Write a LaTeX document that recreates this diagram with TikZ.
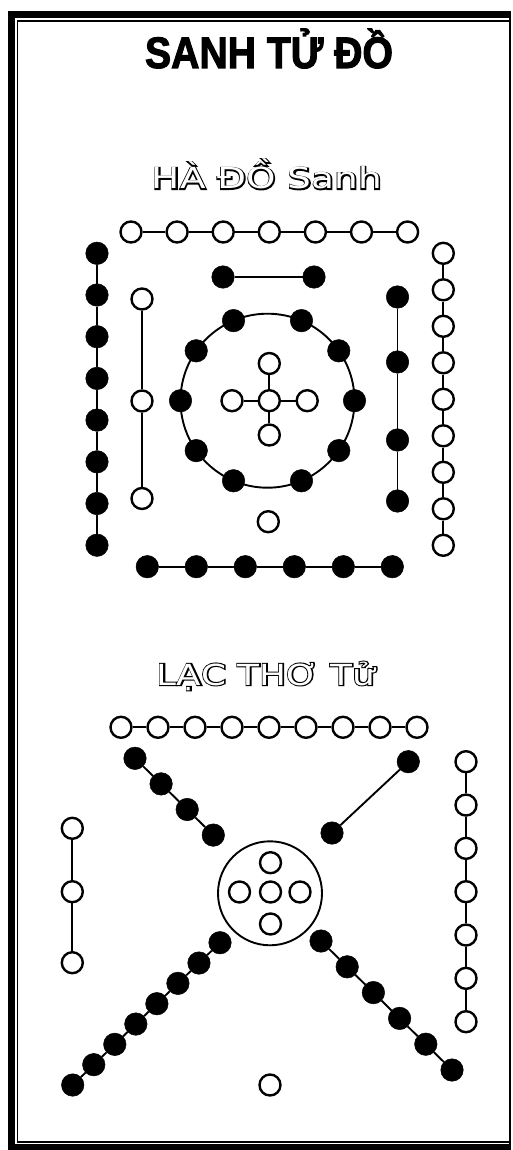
\documentclass[tikz,border=0pt]{standalone}
\usepackage{graphicx}
\usepackage{fontspec}
\newfontfamily\titlefont[FakeBold=2.5]{Liberation Sans Bold}
\newfontfamily\subfont{DejaVu Sans}
\newfontfamily\subfontfat[FakeBold=7]{DejaVu Sans}
\newcommand\hwidth[2]{\resizebox{#1}{\height}{#2}}
\newcommand\outl[1]{\fontsize{29}{29}\makebox[0pt][l]{\color{black}\subfontfat\fontsize{29}{29}\selectfont #1}{\color{white}\subfont\fontsize{29}{29}\selectfont #1}}
\begin{document}
\begin{tikzpicture}[x=1pt,y=-1pt,
  wn/.style={circle,draw=black,line width=2.4pt,fill=white,minimum size=21pt,inner sep=0pt},
  bn/.style={circle,fill=black,draw=black,line width=0.5pt,minimum size=22.5pt,inner sep=0pt},
  ln/.style={line width=1.9pt},
  frame/.style={line width=7pt},
  thin/.style={line width=1.4pt}]
\useasboundingbox (0,0) rectangle (513,1150);
\fill[white] (0,0) rectangle (513,1150);
% frame
\draw[frame] (510,15) -- (11.5,15) -- (11.5,1147) -- (510,1147);
\draw[thin] (510,21) -- (17.5,21) -- (17.5,1142) -- (510,1142);
\draw[line width=2pt] (510,11.5) -- (510,1150);
% titles
\node[anchor=base,inner sep=0pt] (title) at (269,68)
  {\hwidth{248pt}{\titlefont\fontsize{44}{44}\selectfont SANH TỬ ĐỒ}};
\node[anchor=base,inner sep=0pt] (sub1) at (267,189)
  {\hwidth{230pt}{\outl{HÀ ĐỒ Sanh}}};
\node[anchor=base,inner sep=0pt] (sub2) at (266,685)
  {\hwidth{218pt}{\outl{LẠC THƠ Tử}}};

% ===== HA DO =====
\coordinate (rc) at (267.5,400.7);
\draw[ln] (rc) circle[radius=87];
\foreach \a [count=\k] in {180,145,113,67,35,0,-35,-67,-113,-145}
  \node[bn] (r\k) at ([shift={(\a:87)}]rc) {};
% top row 7 white
\foreach \i in {0,...,6} \node[wn] (ht\i) at (131+46.1*\i,232) {};
\foreach \i [count=\j from 1] in {0,...,5} \draw[ln] (ht\i) -- (ht\j);
% left 8 black
\foreach \i in {0,...,7} \node[bn] (hl\i) at (97,253.3+41.7*\i) {};
\foreach \i [count=\j from 1] in {0,...,6} \draw[ln] (hl\i) -- (hl\j);
% left inner 3 white
\foreach \y [count=\k from 0] in {299,401,498.5} \node[wn] (hi\k) at (142,\y) {};
\draw[ln] (hi0) -- (hi1); \draw[ln] (hi1) -- (hi2);
% pair 2 black
\node[bn] (hp0) at (223,277) {};
\node[bn] (hp1) at (314,277) {};
\draw[ln] (hp0) -- (hp1);
% center cross 5 white
\node[wn] (hc) at (269.3,400.7) {};
\node[wn] (hcn) at (269.3,363.5) {};
\node[wn] (hcs) at (269.3,435) {};
\node[wn] (hcw) at (232,400.7) {};
\node[wn] (hce) at (307.2,400.7) {};
\foreach \n in {hcn,hcs,hcw,hce} \draw[ln] (hc) -- (\n);
% lone white
\node[wn] (h1) at (268.3,521.7) {};
% bottom 6 black
\foreach \i in {0,...,5} \node[bn] (hb\i) at (147.3+49*\i,566.7) {};
\foreach \i [count=\j from 1] in {0,...,4} \draw[ln] (hb\i) -- (hb\j);
% right inner 4 black
\foreach \y [count=\k from 0] in {297,362,440,501} \node[bn] (hr\k) at (397.5,\y) {};
\foreach \i [count=\j from 1] in {0,...,2} \draw[ln] (hr\i) -- (hr\j);
% right outer 9 white
\foreach \i in {0,...,8} \node[wn] (ho\i) at (443.3,253.3+36.5*\i) {};
\foreach \i [count=\j from 1] in {0,...,7} \draw[ln] (ho\i) -- (ho\j);

% ===== LAC THU =====
\coordinate (lc) at (270,893.3);
\draw[ln] (lc) circle[radius=52];
\node[wn] (lcc) at (270.5,892) {};
\node[wn] (lcw) at (239.5,892) {};
\node[wn] (lce) at (300,892) {};
\node[wn] (lcn) at (270.5,862.7) {};
\node[wn] (lcs) at (270.5,924) {};
% top 9 white
\foreach \i in {0,...,8} \node[wn] (lt\i) at (121+37*\i,727.3) {};
\foreach \i [count=\j from 1] in {0,...,7} \draw[ln] (lt\i) -- (lt\j);
% upper-left 4 black
\foreach \i in {0,...,3} \node[bn] (lul\i) at (135+26.1*\i,758.3+25.6*\i) {};
\foreach \i [count=\j from 1] in {0,...,2} \draw[ln] (lul\i) -- (lul\j);
% upper-right 2 black
\node[bn] (lur0) at (408.3,761.7) {};
\node[bn] (lur1) at (332,833) {};
\draw[ln] (lur0) -- (lur1);
% left 3 white
\foreach \y [count=\k from 0] in {828.3,891.7,962.7} \node[wn] (ll\k) at (72.3,\y) {};
\draw[ln] (ll0) -- (ll1); \draw[ln] (ll1) -- (ll2);
% right 7 white
\foreach \i in {0,...,6} \node[wn] (lr\i) at (466,761.7+43.33*\i) {};
\foreach \i [count=\j from 1] in {0,...,5} \draw[ln] (lr\i) -- (lr\j);
% lower-left 8 black
\foreach \i in {0,...,7} \node[bn] (lll\i) at (220-21.04*\i,942.7+20.33*\i) {};
\foreach \i [count=\j from 1] in {0,...,6} \draw[ln] (lll\i) -- (lll\j);
% lower-right 6 black
\foreach \i in {0,...,5} \node[bn] (llr\i) at (321+26.2*\i,941+25.8*\i) {};
\foreach \i [count=\j from 1] in {0,...,4} \draw[ln] (llr\i) -- (llr\j);
% bottom lone white
\node[wn] (l1) at (270,1085) {};
\end{tikzpicture}
\end{document}
